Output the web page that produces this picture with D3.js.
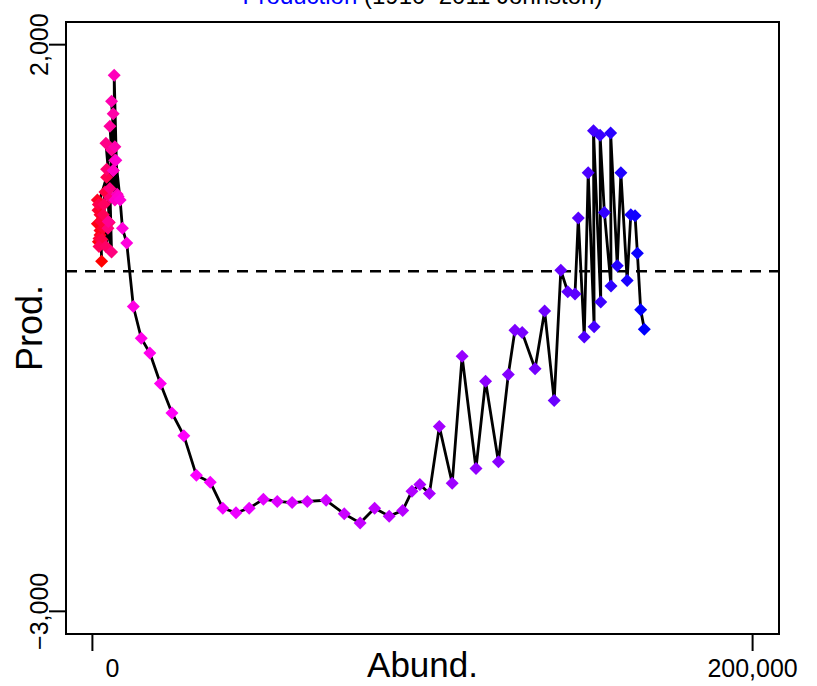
<!DOCTYPE html>
<html>
<head>
<meta charset="utf-8">
<script src="https://cdn.jsdelivr.net/npm/d3@7"></script>
<style>
  html, body { margin: 0; padding: 0; background: #fff; }
  svg { display: block; font-family: "Liberation Sans", Arial, Helvetica, sans-serif; }
</style>
</head>
<body>
<svg id="chart" width="817" height="686"></svg>
<script>
// ---- data ----
const years = [1910,1911,1912,1913,1914,1915,1916,1917,1918,1919,1920,1921,1922,1923,1924,1925,1926,1927,1928,1929,
  1930,1931,1932,1933,1934,1935,1936,1937,1938,1939,1940,1941,1942,1943,1944,1945,1946,1947,1948,1949,
  1950,1951,1952,1953,1954,1955,1956,1957,1958,1959,1960,1961,1962,1963,1964,1965,1966,1967,1968,1969,
  1970,1971,1972,1973,1974,1975,1976,1977,1978,1979,1980,1981,1982,1983,1984,1985,1986,1987,1988,1989,
  1990,1991,1992,1993,1994,1995,1996,1997,1998,1999,2000,2001,2002,2003,2004,2005,2006,2007,2008,2009,
  2010,2011];
const abundance = [2800,2500,1800,2300,1500,2300,3100,1500,2300,1700,3200,2000,2600,3800,2900,1800,4300,3300,2000,3500,
  4100,5100,4300,5300,4700,5800,5300,4100,6300,4800,5800,5300,6800,6300,6800,5800,7500,6600,6800,6300,
  7800,7100,8400,9100,10400,12400,14800,17400,20600,24100,27700,31500,35700,39500,43500,47500,51800,56000,60500,65100,
  70800,76300,81100,85500,89900,94000,96800,99200,102100,105100,109000,112000,116200,119100,123000,126000,128000,130200,134100,137000,
  139900,141900,144000,146200,147200,149000,150200,152000,151800,154000,153800,155100,157100,157000,159000,160100,162000,163100,164400,165100,
  166100,167200];
const production = [90,400,260,320,420,360,470,630,500,540,380,290,440,700,280,590,830,500,220,590,
  220,430,900,650,380,170,730,1130,890,440,1070,1280,980,1390,1100,1500,680,1730,630,890,
  660,980,630,380,250,-310,-590,-720,-990,-1250,-1450,-1800,-1860,-2090,-2130,-2090,-2010,-2030,-2040,-2030,
  -2020,-2140,-2220,-2090,-2160,-2110,-1940,-1880,-1960,-1370,-1870,-750,-1740,-970,-1680,-910,-520,-540,-860,-350,
  -1140,10,-180,-200,470,-580,870,-490,1240,-270,1200,520,-130,1220,50,870,-80,500,490,160,
  -340,-510];
const xTicks = [0, 200000];
const xTickLabels = ["0", "200,000"];
const yTicks = [2000, -3000];
const yTickLabels = ["2,000", "\u22123,000"];
const refLine = 0;
const titleMain = "Production";
const titleRest = " (1910\u20132011 Johnston)";
const xTitle = "Abund.";
const yTitle = "Prod.";

// ---- layout ----
const svg = d3.select("#chart");
const box = { left: 66, right: 779, top: 22, bottom: 634 };

const x = d3.scaleLinear().domain([-8000, 208000]).range([box.left, box.right]);
const y = d3.scaleLinear().domain([-3200, 2200]).range([box.bottom, box.top]);
const color = d3.scaleLinear()
  .domain([years[0], (years[0] + years[years.length - 1]) / 2, years[years.length - 1]])
  .range(["#ff0000", "#ff00ff", "#0000ff"])
  .interpolate(d3.interpolateRgb);

const pts = years.map((yr, i) => ({ year: yr, a: abundance[i], p: production[i] }));

// title (partly cut at the top, as in the reference)
const title = svg.append("text")
  .attr("x", (box.left + box.right) / 2)
  .attr("y", 4)
  .attr("text-anchor", "middle")
  .attr("font-size", 24);
title.append("tspan").attr("fill", "#0000ff").text(titleMain);
title.append("tspan").attr("fill", "#000").text(titleRest);

// zero reference line
svg.append("line")
  .attr("x1", box.left).attr("x2", box.right)
  .attr("y1", y(refLine)).attr("y2", y(refLine))
  .attr("stroke", "#000").attr("stroke-width", 2.5)
  .attr("stroke-dasharray", "11,8");

// connecting line
const line = d3.line().x(d => x(d.a)).y(d => y(d.p));
svg.append("path")
  .datum(pts)
  .attr("d", line)
  .attr("fill", "none")
  .attr("stroke", "#000")
  .attr("stroke-width", 2.8)
  .attr("stroke-linejoin", "round");

// diamond points
const r = 6.5;
svg.append("g").selectAll("path")
  .data(pts)
  .join("path")
  .attr("transform", d => `translate(${x(d.a)},${y(d.p)})`)
  .attr("d", `M0,${-r}L${r},0L0,${r}L${-r},0Z`)
  .attr("fill", d => color(d.year));

// box
svg.append("rect")
  .attr("x", box.left).attr("y", box.top)
  .attr("width", box.right - box.left).attr("height", box.bottom - box.top)
  .attr("fill", "none").attr("stroke", "#000").attr("stroke-width", 2);

// x axis ticks and labels
const tickLen = 17;
svg.append("g").selectAll("line")
  .data(xTicks).join("line")
  .attr("x1", d => x(d)).attr("x2", d => x(d))
  .attr("y1", box.bottom).attr("y2", box.bottom + tickLen)
  .attr("stroke", "#000").attr("stroke-width", 2);
svg.append("g").selectAll("text")
  .data(xTicks).join("text")
  .attr("x", (d, i) => x(d) + (i === 0 ? 20 : 0))
  .attr("y", 677)
  .attr("text-anchor", "middle")
  .attr("font-size", 25)
  .text((d, i) => xTickLabels[i]);

// y axis ticks and labels
svg.append("g").selectAll("line")
  .data(yTicks).join("line")
  .attr("x1", box.left - tickLen).attr("x2", box.left)
  .attr("y1", d => y(d)).attr("y2", d => y(d))
  .attr("stroke", "#000").attr("stroke-width", 2);
svg.append("g").selectAll("text")
  .data(yTicks).join("text")
  .attr("transform", d => `translate(48,${y(d)}) rotate(-90)`)
  .attr("text-anchor", "middle")
  .attr("font-size", 25)
  .text((d, i) => yTickLabels[i]);

// axis titles
svg.append("text")
  .attr("x", (box.left + box.right) / 2)
  .attr("y", 677)
  .attr("text-anchor", "middle")
  .attr("font-size", 35)
  .text(xTitle);
svg.append("text")
  .attr("transform", `translate(42,${(box.top + box.bottom) / 2}) rotate(-90)`)
  .attr("text-anchor", "middle")
  .attr("font-size", 36)
  .text(yTitle);
</script>
</body>
</html>
